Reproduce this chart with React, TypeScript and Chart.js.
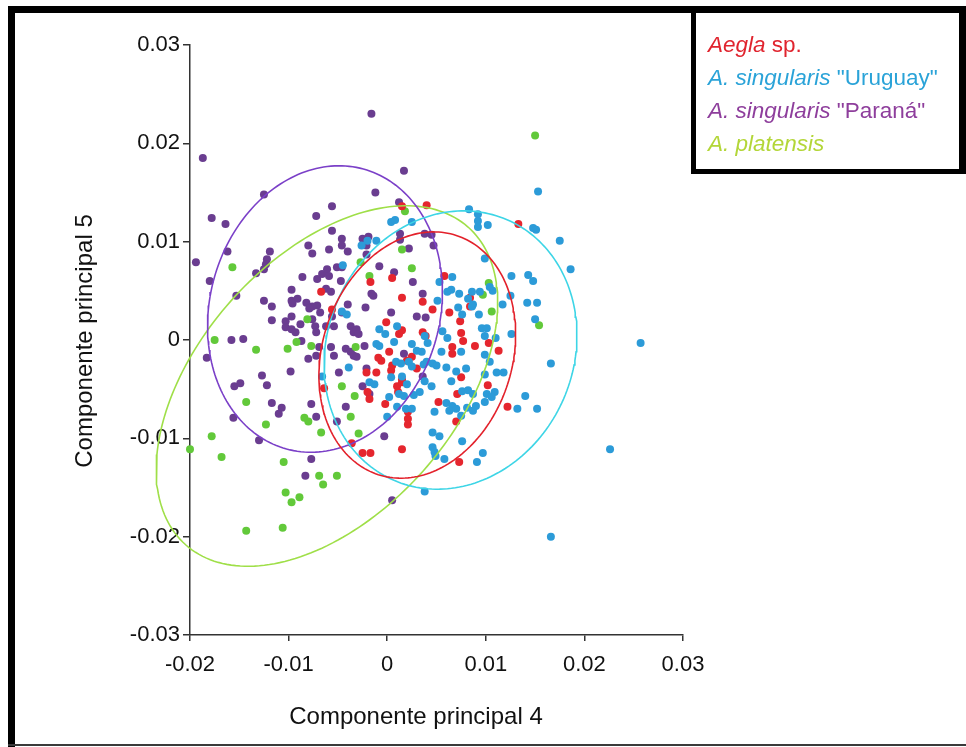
import React, { useEffect, useRef } from 'react';
import { Chart, registerables } from 'chart.js';

Chart.register(...registerables);

const xTickValues = [-0.02, -0.01, 0, 0.01, 0.02, 0.03];
const xTickLabels = ['-0.02', '-0.01', '0', '0.01', '0.02', '0.03'];
const yTickValues = [-0.03, -0.02, -0.01, 0, 0.01, 0.02, 0.03];
const yTickLabels = ['-0.03', '-0.02', '-0.01', '0', '0.01', '0.02', '0.03'];

const xAxisTitle = 'Componente principal 4';
const yAxisTitle = 'Componente principal 5';

const aeglaPoints: number[][] = [
  [0.0015, 0.0136], [0.0040, 0.0137], [0.0133, 0.0118], [-0.0017, 0.0059], [0.0005, 0.0063], [-0.0067, 0.0049],
  [-0.0056, 0.0031], [0.0058, 0.0065], [0.0015, 0.0043], [0.0036, 0.0039], [0.0046, 0.0031], [0.0063, 0.0028],
  [0.0074, 0.0019], [0.0084, 0.0043], [0.0084, 0.0034], [-0.0001, 0.0018], [0.0036, 0.0008], [0.0039, 0.0004],
  [0.0012, 0.0006], [0.0015, 0.0010], [0.0075, 0.0007], [0.0077, -0.0001], [0.0066, -0.0007], [0.0066, -0.0014],
  [0.0089, -0.0006], [0.0103, -0.0003], [0.0113, -0.0011], [0.0002, -0.0012], [-0.0006, -0.0021], [0.0020, -0.0021],
  [0.0025, -0.0017], [0.0030, -0.0029], [-0.0011, -0.0033], [0.0004, -0.0031], [0.0015, -0.0040], [0.0010, -0.0047],
  [0.0011, -0.0053], [-0.0020, -0.0053], [-0.0018, -0.0060], [-0.0002, -0.0065], [0.0075, -0.0038], [0.0102, -0.0046],
  [0.0071, -0.0055], [0.0052, -0.0063], [0.0021, -0.0073], [0.0021, -0.0080], [0.0021, -0.0086], [0.0070, -0.0083],
  [0.0122, -0.0068], [-0.0064, -0.0049], [-0.0036, -0.0105], [-0.0025, -0.0115], [-0.0017, -0.0115], [0.0015, -0.0111],
  [0.0073, -0.0124], [-0.0009, -0.0018], [0.0005, -0.0026], [-0.0021, -0.0033], [0.0015, -0.0043],
];

const uruguayPoints: number[][] = [
  [0.0153, 0.0151], [0.0083, 0.0133], [0.0092, 0.0128], [0.0092, 0.0121], [0.0092, 0.0115], [0.0102, 0.0117],
  [0.0148, 0.0114], [0.0151, 0.0112], [0.0175, 0.0101], [0.0186, 0.0072], [0.0004, 0.0120], [0.0008, 0.0122],
  [0.0025, 0.0120], [-0.0011, 0.0101], [-0.0026, 0.0096], [-0.0020, 0.0101], [0.0099, 0.0083], [0.0066, 0.0064],
  [0.0053, 0.0059], [0.0126, 0.0065], [0.0143, 0.0066], [0.0148, 0.0060], [0.0061, 0.0049], [0.0065, 0.0051],
  [0.0073, 0.0047], [0.0086, 0.0049], [0.0094, 0.0049], [0.0082, 0.0042], [0.0087, 0.0036], [0.0086, 0.0034],
  [0.0107, 0.0050], [0.0104, 0.0054], [0.0117, 0.0036], [0.0125, 0.0045], [0.0142, 0.0038], [0.0152, 0.0038],
  [0.0150, 0.0021], [0.0051, 0.0040], [0.0072, 0.0033], [0.0076, 0.0026], [0.0093, 0.0026], [0.0056, 0.0009],
  [0.0061, 0.0002], [0.0038, 0.0004], [0.0041, -0.0003], [-0.0002, 0.0006], [-0.0046, 0.0029], [-0.0041, 0.0026],
  [0.0096, 0.0012], [0.0101, 0.0012], [0.0099, 0.0004], [0.0110, 0.0002], [0.0126, 0.0006], [0.0055, -0.0012],
  [0.0075, -0.0012], [0.0099, -0.0015], [-0.0011, -0.0004], [0.0007, -0.0002], [0.0025, -0.0004], [0.0030, -0.0011],
  [0.0035, -0.0012], [0.0009, -0.0022], [0.0014, -0.0024], [0.0022, -0.0022], [0.0025, -0.0027], [0.0037, -0.0025],
  [0.0040, -0.0022], [0.0046, -0.0024], [0.0050, -0.0026], [0.0060, -0.0028], [0.0070, -0.0032], [0.0080, -0.0029],
  [0.0099, -0.0035], [0.0111, -0.0033], [0.0118, -0.0033], [0.0104, -0.0022], [-0.0039, -0.0028], [-0.0066, -0.0037],
  [-0.0018, -0.0043], [-0.0013, -0.0045], [0.0004, -0.0038], [0.0015, -0.0037], [0.0038, -0.0042], [0.0045, -0.0047],
  [0.0065, -0.0042], [0.0076, -0.0052], [0.0082, -0.0051], [0.0087, -0.0055], [0.0101, -0.0055], [0.0109, -0.0053],
  [0.0106, -0.0058], [0.0002, -0.0058], [0.0012, -0.0055], [0.0017, -0.0057], [0.0027, -0.0056], [0.0060, -0.0064],
  [0.0066, -0.0067], [0.0063, -0.0072], [0.0070, -0.0070], [0.0081, -0.0069], [0.0087, -0.0072], [0.0090, -0.0067],
  [0.0099, -0.0063], [0.0075, -0.0077], [0.0048, -0.0073], [0.0000, -0.0078], [0.0010, -0.0068], [0.0019, -0.0070],
  [0.0025, -0.0070], [0.0132, -0.0070], [0.0140, -0.0057], [0.0152, -0.0070], [0.0166, -0.0024], [0.0046, -0.0094],
  [0.0053, -0.0098], [0.0076, -0.0103], [0.0046, -0.0109], [0.0048, -0.0114], [0.0049, -0.0118], [0.0058, -0.0121],
  [0.0097, -0.0115], [0.0091, -0.0124], [0.0038, -0.0154], [-0.0045, 0.0076], [0.0010, 0.0014], [-0.0008, 0.0011],
  [-0.0008, -0.0006], [0.0020, -0.0045], [0.0033, -0.0053], [0.0257, -0.0003], [0.0226, -0.0111], [0.0166, -0.0200],
];

const paranaPoints: number[][] = [
  [-0.0016, 0.0230], [-0.0187, 0.0185], [0.0017, 0.0172], [-0.0012, 0.0150], [-0.0125, 0.0148], [-0.0178, 0.0124],
  [-0.0164, 0.0118], [-0.0056, 0.0136], [-0.0072, 0.0126], [0.0012, 0.0140], [-0.0056, 0.0111], [-0.0194, 0.0079],
  [-0.0162, 0.0090], [-0.0180, 0.0060], [-0.0153, 0.0045], [-0.0119, 0.0090], [-0.0122, 0.0082], [-0.0123, 0.0077],
  [-0.0125, 0.0072], [-0.0133, 0.0068], [-0.0080, 0.0096], [-0.0076, 0.0088], [-0.0059, 0.0092], [-0.0046, 0.0103],
  [-0.0040, 0.0090], [-0.0046, 0.0096], [-0.0025, 0.0103], [-0.0019, 0.0105], [-0.0021, 0.0096], [-0.0021, 0.0087],
  [0.0013, 0.0108], [0.0013, 0.0102], [0.0022, 0.0093], [0.0047, 0.0096], [0.0038, 0.0108], [0.0045, 0.0107],
  [-0.0086, 0.0064], [-0.0071, 0.0062], [-0.0066, 0.0067], [-0.0061, 0.0072], [-0.0059, 0.0065], [-0.0051, 0.0074],
  [-0.0046, 0.0074], [-0.0047, 0.0060], [-0.0062, 0.0052], [-0.0057, 0.0049], [-0.0097, 0.0051], [-0.0125, 0.0040],
  [-0.0117, 0.0034], [-0.0117, 0.0020], [-0.0097, 0.0040], [-0.0091, 0.0042], [-0.0096, 0.0037], [-0.0082, 0.0038],
  [-0.0076, 0.0034], [-0.0071, 0.0035], [-0.0068, 0.0028], [-0.0079, 0.0032], [-0.0103, 0.0019], [-0.0097, 0.0024],
  [-0.0103, 0.0013], [-0.0097, 0.0011], [-0.0093, 0.0008], [-0.0088, 0.0016], [-0.0076, 0.0021], [-0.0073, 0.0014],
  [-0.0072, 0.0008], [-0.0062, 0.0014], [-0.0056, 0.0024], [-0.0054, 0.0014], [-0.0046, 0.0028], [-0.0040, 0.0036],
  [-0.0037, 0.0014], [-0.0034, 0.0008], [-0.0031, 0.0011], [-0.0029, 0.0006], [-0.0022, 0.0033], [-0.0016, 0.0047],
  [-0.0014, 0.0045], [-0.0008, 0.0075], [0.0007, 0.0069], [0.0026, 0.0059], [0.0036, 0.0047], [0.0030, 0.0024],
  [0.0039, 0.0023], [0.0004, 0.0028], [-0.0072, -0.0016], [-0.0069, -0.0007], [-0.0057, -0.0007], [-0.0054, -0.0016],
  [-0.0087, -0.0001], [-0.0080, -0.0019], [-0.0158, 0.0000], [-0.0146, 0.0001], [-0.0183, -0.0018], [-0.0127, -0.0036],
  [-0.0098, -0.0032], [-0.0122, -0.0046], [-0.0155, -0.0047], [-0.0149, -0.0044], [-0.0042, -0.0009], [-0.0037, -0.0012],
  [-0.0034, -0.0016], [-0.0031, -0.0017], [-0.0023, -0.0006], [-0.0049, -0.0033], [-0.0021, -0.0029], [-0.0025, -0.0047],
  [0.0017, -0.0014], [0.0036, -0.0037], [-0.0018, -0.0055], [-0.0077, -0.0065], [-0.0072, -0.0078], [-0.0042, -0.0068],
  [-0.0051, -0.0083], [-0.0003, -0.0098], [-0.0077, -0.0121], [-0.0083, -0.0138], [-0.0156, -0.0079], [-0.0117, -0.0064],
  [-0.0110, -0.0075], [-0.0107, -0.0069], [-0.0130, -0.0102], [0.0005, -0.0163],
];

const platensisPoints: number[][] = [
  [-0.0157, 0.0074], [-0.0175, 0.0000], [-0.0133, -0.0010], [-0.0101, -0.0009], [-0.0092, -0.0002], [-0.0077, -0.0006],
  [-0.0081, 0.0021], [-0.0032, -0.0007], [-0.0027, 0.0079], [-0.0018, 0.0065], [0.0015, 0.0092], [0.0018, 0.0131],
  [0.0025, 0.0073], [-0.0046, -0.0047], [-0.0033, -0.0057], [0.0103, 0.0058], [0.0097, 0.0046], [0.0106, 0.0029],
  [0.0154, 0.0015], [-0.0037, -0.0078], [-0.0029, -0.0095], [-0.0084, -0.0079], [-0.0080, -0.0083], [-0.0069, -0.0138],
  [-0.0051, -0.0138], [-0.0065, -0.0147], [-0.0143, -0.0063], [-0.0123, -0.0086], [-0.0067, -0.0094], [-0.0178, -0.0098],
  [-0.0168, -0.0119], [-0.0200, -0.0111], [-0.0105, -0.0124], [-0.0103, -0.0155], [-0.0097, -0.0165], [-0.0089, -0.0160],
  [-0.0143, -0.0194], [-0.0106, -0.0191], [0.0150, 0.0208],
];

// 95% ellipses: Aegla, Uruguay, Paraná, platensis
const ellipseCenterX = [0.00305, 0.00642, -0.00631, -0.00611];
const ellipseCenterY = [-0.00153, -0.00102, 0.00315, -0.00468];
const ellipseSemiMajor = [0.01279, 0.01444, 0.01476, 0.02159];
const ellipseSemiMinor = [0.00963, 0.0125, 0.01167, 0.01303];
const ellipseAngleDeg = [72, 66.6, 74.7, 48.5];

const pointColors = ['#e5262e', '#2c9bd8', '#6a3d90', '#62c93a'];
const ellipseColors = ['#e3212b', '#3dd5e6', '#7b40c8', '#9fdf48'];
const legendColors = ['#e0242e', '#2aa3d8', '#8e3e9c', '#b3d638'];
const legendParts: { t: string; i: boolean }[][] = [
  [{ t: 'Aegla', i: true }, { t: ' sp.', i: false }],
  [{ t: 'A. singularis', i: true }, { t: ' "Uruguay"', i: false }],
  [{ t: 'A. singularis', i: true }, { t: ' "Paraná"', i: false }],
  [{ t: 'A. platensis', i: true }],
];

const FONT = '"Liberation Sans", Arial, sans-serif';

function ellipsePath(k: number) {
  const pts: { x: number; y: number }[] = [];
  const phi = (ellipseAngleDeg[k] * Math.PI) / 180;
  const n = 200;
  for (let j = 0; j <= n; j++) {
    const t = (j / n) * Math.PI * 2;
    const a = ellipseSemiMajor[k] * Math.cos(t);
    const b = ellipseSemiMinor[k] * Math.sin(t);
    pts.push({
      x: ellipseCenterX[k] + a * Math.cos(phi) - b * Math.sin(phi),
      y: ellipseCenterY[k] + a * Math.sin(phi) + b * Math.cos(phi),
    });
  }
  return pts;
}

const framePlugin = {
  id: 'framePlugin',
  beforeDraw(chart: any) {
    const ctx = chart.ctx;
    ctx.save();
    ctx.fillStyle = '#ffffff';
    ctx.fillRect(0, 0, chart.width, chart.height);
    ctx.restore();
  },
  afterDraw(chart: any) {
    const ctx = chart.ctx as CanvasRenderingContext2D;
    ctx.save();
    // outer frame
    ctx.fillStyle = '#000';
    ctx.fillRect(8, 6, 958, 7);
    ctx.fillRect(8, 6, 7, 741);
    ctx.fillStyle = '#3a3a3a';
    ctx.fillRect(8, 744, 958, 2);
    // legend box
    ctx.fillStyle = '#fff';
    ctx.fillRect(696, 13, 263, 156);
    ctx.fillStyle = '#000';
    ctx.fillRect(691, 6, 5, 168);
    ctx.fillRect(691, 169, 275, 5);
    ctx.fillRect(959, 6, 7, 168);
    // legend text
    const baselines = [52, 85, 118, 151];
    ctx.textBaseline = 'alphabetic';
    ctx.textAlign = 'left';
    legendParts.forEach((parts, k) => {
      let x = 708;
      ctx.fillStyle = legendColors[k];
      parts.forEach((p) => {
        ctx.font = `${p.i ? 'italic ' : ''}22.5px ${FONT}`;
        ctx.fillText(p.t, x, baselines[k]);
        x += ctx.measureText(p.t).width;
      });
    });
    // axis titles
    ctx.fillStyle = '#111';
    ctx.font = `24px ${FONT}`;
    ctx.textAlign = 'center';
    ctx.textBaseline = 'middle';
    ctx.fillText(xAxisTitle, 416, 717);
    ctx.translate(85, 341);
    ctx.rotate(-Math.PI / 2);
    ctx.fillText(yAxisTitle, 0, 0);
    ctx.restore();
  },
};

export default function App() {
  const ref = useRef<HTMLCanvasElement>(null);
  useEffect(() => {
    const canvas = ref.current;
    if (!canvas) return;
    const series = [aeglaPoints, uruguayPoints, paranaPoints, platensisPoints];
    const pointOrder = [2, 1, 4, 3];
    const pointDatasets = series.map((arr, k) => ({
      type: 'scatter' as const,
      label: legendParts[k].map((p) => p.t).join(''),
      data: arr.map((p) => ({ x: p[0], y: p[1] })),
      backgroundColor: pointColors[k],
      borderColor: pointColors[k],
      borderWidth: 0,
      pointRadius: 4,
      pointHoverRadius: 4,
      clip: false,
      order: pointOrder[k],
    }));
    const ellipseDatasets = [0, 1, 2, 3].map((k) => ({
      type: 'line' as const,
      label: 'ellipse ' + k,
      data: ellipsePath(k),
      borderColor: ellipseColors[k],
      borderWidth: 1.6,
      pointRadius: 0,
      fill: false,
      tension: 0,
      showLine: true,
      clip: false,
      order: 0,
    }));
    const chart = new Chart(canvas, {
      type: 'scatter',
      data: { datasets: [...pointDatasets, ...ellipseDatasets] as any },
      plugins: [framePlugin],
      options: {
        animation: false,
        responsive: false,
        devicePixelRatio: 1,
        events: [],
        layout: { padding: { left: 15, right: 283, top: 45, bottom: 12 } },
        plugins: { legend: { display: false }, tooltip: { enabled: false }, title: { display: false } },
        scales: {
          x: {
            type: 'linear',
            min: -0.02,
            max: 0.03,
            afterBuildTicks: (scale: any) => {
              scale.ticks = xTickValues.map((v) => ({ value: v }));
            },
            afterFit: (scale: any) => {
              scale.height = 100;
              scale.paddingLeft = 0;
              scale.paddingRight = 0;
            },
            grid: { drawOnChartArea: false, drawTicks: true, tickLength: 6, color: '#333', lineWidth: 1.5 },
            border: { display: true, color: '#333', width: 1.5 },
            ticks: {
              autoSkip: false,
              maxRotation: 0,
              minRotation: 0,
              padding: 11,
              color: '#111',
              font: { family: FONT, size: 22 },
              callback: (_v: any, i: number) => xTickLabels[i],
            },
          },
          y: {
            type: 'linear',
            min: -0.03,
            max: 0.03,
            afterBuildTicks: (scale: any) => {
              scale.ticks = yTickValues.map((v) => ({ value: v }));
            },
            afterFit: (scale: any) => {
              scale.width = 175;
              scale.paddingTop = 0;
              scale.paddingBottom = 0;
            },
            grid: { drawOnChartArea: false, drawTicks: true, tickLength: 7, color: '#333', lineWidth: 1.5 },
            border: { display: true, color: '#333', width: 1.5 },
            ticks: {
              autoSkip: false,
              padding: 3,
              color: '#111',
              font: { family: FONT, size: 22 },
              callback: (_v: any, i: number) => yTickLabels[i],
            },
          },
        },
      } as any,
    });
    return () => chart.destroy();
  }, []);
  return (
    <div style={{ position: 'fixed', left: 0, top: 0, width: 966, height: 747, background: '#fff' }}>
      <canvas ref={ref} width={966} height={747} style={{ display: 'block', width: 966, height: 747 }} />
    </div>
  );
}
